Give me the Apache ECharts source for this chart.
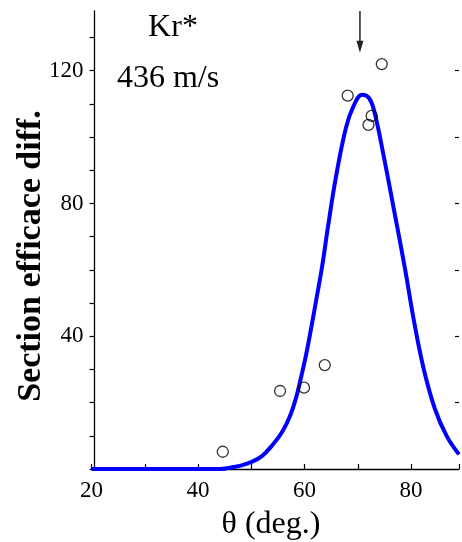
<!DOCTYPE html>
<html>
<head>
<meta charset="utf-8">
<script src="https://cdn.jsdelivr.net/npm/echarts@6/dist/echarts.min.js"></script>
<style>
html,body{margin:0;padding:0;background:#fff;}
#chart{width:462px;height:542px;}
</style>
</head>
<body>
<div id="chart"></div>
<script>
// Fitted curve (theta in deg, differential cross section)
var curveX = [20, 30, 40, 44, 46, 48, 50, 52, 53.8, 55.7, 57.25, 58.5, 59.4, 60.3, 61.3, 62.2, 63.3, 64.4, 65.9, 67.8, 69.3, 70.8, 72.1, 73.1, 74.9, 76.8, 78.9, 80.5, 82.4, 84.5, 86.7, 89];
var curveY = [0, 0, 0, 0, 0.4, 1.0, 2.1, 3.9, 6.9, 10.9, 15.9, 22, 28, 34.5, 43, 51, 61, 73, 88, 103, 109.7, 112.8, 111.8, 107.7, 94, 78, 60, 45, 30, 18, 9.9, 4.4];
// Measured points
var pointsX = [44.65, 55.4, 59.9, 63.8, 68.1, 72.0, 72.6, 74.5];
var pointsY = [5.2, 23.5, 24.5, 31.3, 112.5, 103.7, 106.4, 122];
// Arrow marking the rainbow angle
var arrowX = [70.4, 70.4];
var arrowY = [138, 127.2];
// Tick values and labels
var yTickValues = [0, 10, 20, 30, 40, 50, 60, 70, 80, 90, 100, 110, 120, 130];
var yRightTickValues = [20, 40, 60, 80, 100, 120];
var xTickLabels = [20, 40, 60, 80];
var yTickLabels = [40, 80, 120];
var annotation1 = 'Kr*';
var annotation2 = '436 m/s';
var xTitle = 'θ (deg.)';
var yTitle = 'Section efficace diff.';

var FONT = '"Liberation Serif", "Times New Roman", serif';

var curveData = curveX.map(function (x, i) { return [x, curveY[i]]; });
var pointData = pointsX.map(function (x, i) { return [x, pointsY[i]]; });
var arrowData = [
  { value: [arrowX[0], arrowY[0]], symbol: 'none' },
  { value: [arrowX[1], arrowY[1]], symbol: 'triangle', symbolSize: [7, 12], symbolRotate: 180 }
];

var chart = echarts.init(document.getElementById('chart'), null, { renderer: 'canvas' });
chart.setOption({
  animation: false,
  backgroundColor: '#fff',
  grid: { left: 91.5, right: 0, top: 11, bottom: 73, containLabel: false },
  xAxis: {
    type: 'value', min: 20, max: 89, interval: 10,
    axisLine: { lineStyle: { color: '#000', width: 1.3 } },
    axisTick: { inside: true, length: 5, lineStyle: { color: '#000', width: 1.2 } },
    axisLabel: {
      margin: 10, color: '#000', fontFamily: FONT, fontSize: 23,
      formatter: function (v) { return xTickLabels.indexOf(v) >= 0 ? String(v) : ''; }
    },
    splitLine: { show: false }
  },
  yAxis: [{
    type: 'value', min: 0, max: 138, interval: 10, offset: -3,
    axisLine: { show: true, lineStyle: { color: '#000', width: 1.3 } },
    axisTick: { inside: false, length: 5, customValues: yTickValues, lineStyle: { color: '#000', width: 1.2 } },
    axisLabel: {
      margin: 11, color: '#000', fontFamily: FONT, fontSize: 23,
      formatter: function (v) { return yTickLabels.indexOf(v) >= 0 ? String(v) : ''; }
    },
    splitLine: { show: false }
  }, {
    type: 'value', min: 0, max: 138, interval: 20, position: 'right',
    axisLine: { show: false },
    axisTick: { show: true, inside: true, length: 4, customValues: yRightTickValues, lineStyle: { color: '#000', width: 1.2 } },
    axisLabel: { show: false },
    splitLine: { show: false }
  }],
  series: [{
    type: 'line', data: curveData, smooth: 0.4, showSymbol: false, symbol: 'none',
    lineStyle: { color: '#0000ff', width: 4 }, z: 2
  }, {
    type: 'scatter', data: pointData, symbol: 'circle', symbolSize: 11,
    itemStyle: { color: 'rgba(255,255,255,0)', borderColor: '#000', borderWidth: 1.3 }, z: 3
  }, {
    type: 'line', data: arrowData, showSymbol: true,
    lineStyle: { color: '#222', width: 1.5 },
    itemStyle: { color: '#222' }, z: 4
  }],
  graphic: [{
    type: 'text', x: 173, y: 28,
    style: { text: annotation1, font: '32px ' + FONT, fill: '#000', align: 'center', verticalAlign: 'middle' }
  }, {
    type: 'text', x: 168, y: 79,
    style: { text: annotation2, font: '32px ' + FONT, fill: '#000', align: 'center', verticalAlign: 'middle' }
  }, {
    type: 'text', x: 271, y: 525,
    style: { text: xTitle, font: '32px ' + FONT, fill: '#000', align: 'center', verticalAlign: 'middle' }
  }, {
    type: 'text', x: 31, y: 256, rotation: Math.PI / 2,
    style: { text: yTitle, font: 'bold 34px ' + FONT, fill: '#000', align: 'center', verticalAlign: 'middle' }
  }]
});
</script>
</body>
</html>
